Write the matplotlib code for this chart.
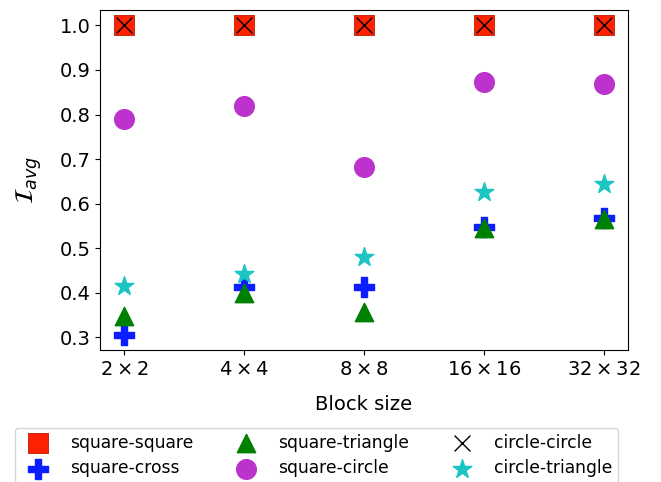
import matplotlib
matplotlib.use("Agg")
import matplotlib.pyplot as plt
import numpy as np

block_labels = [r"$2\times2$", r"$4\times4$", r"$8\times8$", r"$16\times16$", r"$32\times32$"]
square_square = [1.0, 1.0, 1.0, 1.0, 1.0]
square_cross = [0.306, 0.412, 0.413, 0.547, 0.568]
square_triangle = [0.347, 0.400, 0.357, 0.545, 0.566]
square_circle = [0.790, 0.820, 0.682, 0.872, 0.868]
circle_circle = [1.0, 1.0, 1.0, 1.0, 1.0]
circle_triangle = [0.415, 0.442, 0.480, 0.625, 0.645]

x = np.arange(len(block_labels))

fig = plt.figure(figsize=(6.61, 4.82), dpi=100)
ax = fig.add_axes([100/661, 1-350/482, 528/661, 340/482])

ax.scatter(x, square_square, marker='s', s=200, color='#ff2200', edgecolors='#c01800', linewidths=0.6, label='square-square')
ax.scatter(x, square_cross, marker='P', s=190, color='#0a1eff', label='square-cross')
ax.scatter(x, square_triangle, marker='^', s=175, color='green', label='square-triangle')
ax.scatter(x, square_circle, marker='o', s=200, color='#bb33cc', label='square-circle')
ax.scatter(x, circle_circle, marker='x', s=130, color='black', linewidths=1.0, label='circle-circle')
ax.scatter(x, circle_triangle, marker='*', s=200, color='#1cc4c4', label='circle-triangle')

ax.set_xticks(x)
ax.set_xticklabels(block_labels)
ax.set_yticks([0.3, 0.4, 0.5, 0.6, 0.7, 0.8, 0.9, 1.0])
ax.tick_params(labelsize=14)
ax.set_xlabel("Block size", fontsize=14, labelpad=12)
ax.set_ylabel(r"$\mathcal{I}_{avg}$", fontsize=18, labelpad=11)

ax.legend(loc='upper left', bbox_to_anchor=(15/661, 1-428/482), bbox_transform=fig.transFigure,
          borderaxespad=0, ncol=3, fontsize=12.3, frameon=True, handletextpad=0.87,
          columnspacing=2.1, borderpad=0.35, labelspacing=0.42, edgecolor='#cccccc')

fig.savefig("out.png", dpi=100)
